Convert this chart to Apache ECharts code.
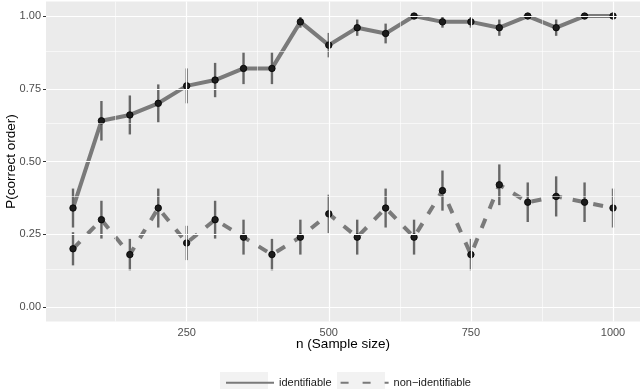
<!DOCTYPE html>
<html>
<head>
<meta charset="utf-8">
<script src="https://cdn.jsdelivr.net/npm/echarts@6/dist/echarts.min.js"></script>
<style>html,body{margin:0;padding:0;background:#fff}#c{width:640px;height:389px}</style>
</head>
<body>
<div id="c"></div>
<script>
const sampleSizes = [50,100,150,200,250,300,350,400,450,500,550,600,650,700,750,800,850,900,950,1000];
const identifiable = [0.34,0.64,0.66,0.70,0.76,0.78,0.82,0.82,0.98,0.90,0.96,0.94,1.00,0.98,0.98,0.96,1.00,0.96,1.00,1.00];
const identifiableErr = [0.067,0.068,0.067,0.065,0.060,0.059,0.054,0.054,0.020,0.042,0.028,0.034,0,0.020,0.020,0.028,0,0.028,0,0];
const nonIdentifiable = [0.20,0.30,0.18,0.34,0.22,0.30,0.24,0.18,0.24,0.32,0.24,0.34,0.24,0.40,0.18,0.42,0.36,0.38,0.36,0.34];
const nonIdentifiableErr = [0.057,0.065,0.054,0.067,0.059,0.065,0.060,0.054,0.060,0.066,0.060,0.067,0.060,0.069,0.054,0.070,0.068,0.069,0.068,0.067];
const xTicks = [250,500,750,1000];
const xMinor = [125,375,625,875];
const yTicks = [0,0.25,0.5,0.75,1];
const yMinor = [0.125,0.375,0.625,0.875];
const seriesNames = ['identifiable','non\u2212identifiable'];

const FONT = 'Liberation Sans, Arial, Helvetica, sans-serif';
const LINE_COLOR = '#7a7a7a';

function pairs(ys){ return sampleSizes.map((x,i)=>[x, ys[i]]); }
function bars(ys, es){ return sampleSizes.map((x,i)=>[x, ys[i]-es[i], ys[i]+es[i]]); }

const gridLines = [].concat(
  xMinor.map(v=>({xAxis:v, lineStyle:{width:0.6}})),
  yMinor.map(v=>({yAxis:v, lineStyle:{width:0.6}})),
  xTicks.map(v=>({xAxis:v, lineStyle:{width:1.2}})),
  yTicks.map(v=>({yAxis:v, lineStyle:{width:1.2}}))
);

function errRender(params, api){
  const x = api.value(0);
  const p1 = api.coord([x, api.value(1)]);
  const p2 = api.coord([x, api.value(2)]);
  const w = 2.4;
  return {type:'rect', shape:{x:p1[0]-w/2, y:p2[1], width:w, height:Math.max(0, p1[1]-p2[1])},
          style:{fill:'#676767', stroke:null}};
}

const chart = echarts.init(document.getElementById('c'), null, {renderer:'canvas'});
chart.setOption({
  animation:false,
  textStyle:{fontFamily:FONT},
  grid:{left:46, right:0, top:1.5, bottom:67.5, show:true, backgroundColor:'#ebebeb', borderWidth:0,
        containLabel:false, outerBoundsMode:'none'},
  xAxis:{type:'value', min:2.5, max:1047.5,
    name:'n (Sample size)', nameLocation:'middle', nameGap:16, nameMoveOverlap:false,
    nameTextStyle:{fontSize:13.5, color:'#000', fontFamily:FONT},
    axisLine:{show:false}, splitLine:{show:false},
    axisTick:{show:true, length:3, customValues:xTicks, lineStyle:{color:'#333', width:1}},
    axisLabel:{customValues:xTicks, margin:5.5, fontSize:11, color:'#4d4d4d', fontFamily:FONT,
      formatter:v=>String(v)}},
  yAxis:{type:'value', min:-0.05, max:1.05,
    name:'P(correct order)', nameLocation:'middle', nameGap:28, nameMoveOverlap:false,
    nameTextStyle:{fontSize:13.5, color:'#000', fontFamily:FONT},
    axisLine:{show:false}, splitLine:{show:false},
    axisTick:{show:true, length:3, customValues:yTicks, lineStyle:{color:'#333', width:1}},
    axisLabel:{customValues:yTicks, margin:5, fontSize:11, color:'#4d4d4d', fontFamily:FONT,
      formatter:v=>v.toFixed(2)}},
  legend:{data:[
      {name:seriesNames[0]},
      {name:seriesNames[1], lineStyle:{type:[8,14]}}
    ],
    left:220, top:371, itemWidth:48, itemHeight:17, itemGap:8, z:5,
    itemStyle:{opacity:0},
    textStyle:{fontSize:11, color:'#1a1a1a', fontFamily:FONT}},
  graphic:[
    {type:'rect', left:220, top:372, shape:{width:48, height:17}, style:{fill:'#f2f2f2'}, z:0, silent:true},
    {type:'rect', left:337, top:372, shape:{width:48, height:17}, style:{fill:'#f2f2f2'}, z:0, silent:true}
  ],
  series:[
    {type:'line', name:'grid', data:[], silent:true, z:1,
     markLine:{silent:true, symbol:'none', label:{show:false}, animation:false,
       lineStyle:{color:'#ffffff', type:'solid'}, data:gridLines}},
    {type:'line', name:seriesNames[0], data:pairs(identifiable), symbol:'none', z:2,
     lineStyle:{color:LINE_COLOR, width:4, type:'solid'}, itemStyle:{color:LINE_COLOR}},
    {type:'line', name:seriesNames[1], data:pairs(nonIdentifiable), symbol:'none', z:2,
     lineStyle:{color:LINE_COLOR, width:4, type:[10,11]}, itemStyle:{color:LINE_COLOR}},
    {type:'custom', name:'errA', data:bars(identifiable, identifiableErr), renderItem:errRender, z:3, encode:{x:0,y:[1,2]}},
    {type:'custom', name:'errB', data:bars(nonIdentifiable, nonIdentifiableErr), renderItem:errRender, z:3, encode:{x:0,y:[1,2]}},
    {type:'scatter', name:'ptsA', data:pairs(identifiable), symbolSize:6.5, z:4,
     itemStyle:{color:'#1c1c1c', borderColor:'#000', borderWidth:0.8, opacity:1}},
    {type:'scatter', name:'ptsB', data:pairs(nonIdentifiable), symbolSize:6.5, z:4,
     itemStyle:{color:'#1c1c1c', borderColor:'#000', borderWidth:0.8, opacity:1}}
  ]
});
</script>
</body>
</html>
